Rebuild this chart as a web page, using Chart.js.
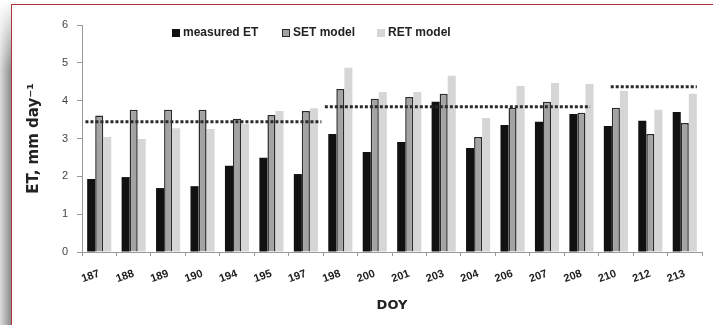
<!DOCTYPE html>
<html>
<head>
<meta charset="utf-8">
<script src="https://cdn.jsdelivr.net/npm/chart.js@4.4.1/dist/chart.umd.min.js"></script>
<style>
  html, body { margin: 0; padding: 0; background: #fff; }
  #wrap { position: relative; width: 713px; height: 325px; overflow: hidden; }
  #shadow {
    position: absolute; left: 0; top: 0; width: 11px; height: 325px;
    background: linear-gradient(to bottom, #fff 0px, rgba(255,255,255,0) 70px),
                linear-gradient(to right, #dcdcdc, #8c8c8c);
  }
  #frame {
    position: absolute; left: 11px; top: 4px; right: 0; bottom: 0;
    border-top: 1px solid #b3323a; border-left: 1px solid #b3323a;
  }
  canvas { position: absolute; left: 0; top: 0; }
</style>
</head>
<body>
<div id="wrap">
  <div id="shadow"></div>
  <div id="frame"></div>
  <canvas id="etChart" width="713" height="325"></canvas>
</div>
<script>
const doy = ["187", "188", "189", "190", "194", "195", "197", "198", "200",
  "201", "203", "204", "206", "207", "208", "210", "212", "213"];
const measuredET = [1.93, 1.98, 1.69, 1.74, 2.28, 2.49, 2.06, 3.12, 2.64,
  2.91, 3.97, 2.75, 3.36, 3.44, 3.65, 3.33, 3.47, 3.7];
const setModel = [3.61, 3.76, 3.76, 3.76, 3.52, 3.62, 3.73, 4.31, 4.05,
  4.1, 4.18, 3.04, 3.81, 3.97, 3.68, 3.81, 3.12, 3.41];
const retModel = [3.04, 2.99, 3.27, 3.25, 3.38, 3.73, 3.8, 4.87, 4.23,
  4.23, 4.66, 3.54, 4.39, 4.47, 4.44, 4.26, 3.76, 4.18];
const yTicks = [0, 1, 2, 3, 4, 5, 6];

// period averages (dotted lines); from/to in category index units
const periodFrom = [-0.4, 6.55, 14.85];
const periodTo = [6.45, 14.25, 17.35];
const periodMean = [3.44, 3.84, 4.37];

const legendX = [172, 282, 377];

const periodPlugin = {
  id: "periodLines",
  afterDatasetsDraw(chart) {
    const { ctx, scales: { x, y } } = chart;
    const step = x.getPixelForValue(1) - x.getPixelForValue(0);
    const x0 = x.getPixelForValue(0);
    ctx.save();
    ctx.strokeStyle = "#2a2a2a";
    ctx.lineWidth = 3;
    ctx.setLineDash([3, 2]);
    periodMean.forEach((m, i) => {
      const py = y.getPixelForValue(m);
      ctx.beginPath();
      ctx.moveTo(x0 + periodFrom[i] * step, py);
      ctx.lineTo(x0 + periodTo[i] * step, py);
      ctx.stroke();
    });
    ctx.restore();
  },
};

const legendPlugin = {
  id: "topLegend",
  afterDraw(chart) {
    const ctx = chart.ctx;
    ctx.save();
    ctx.font = "bold 12px 'Liberation Sans', Arial, sans-serif";
    ctx.textBaseline = "middle";
    chart.data.datasets.forEach((ds, k) => {
      const x = legendX[k];
      const y = 33;
      ctx.fillStyle = ds.backgroundColor;
      ctx.fillRect(x, y - 4, 8, 8);
      if (ds.borderWidth) {
        ctx.strokeStyle = ds.borderColor;
        ctx.lineWidth = 1;
        ctx.strokeRect(x + 0.5, y - 3.5, 7, 7);
      }
      ctx.fillStyle = "#222";
      ctx.fillText(ds.label, x + 11, y);
    });
    ctx.restore();
  },
};

const ctx = document.getElementById("etChart").getContext("2d");
const etChart = new Chart(ctx, {
  type: "bar",
  data: {
    labels: doy,
    datasets: [
      {
        label: "measured ET",
        data: measuredET,
        backgroundColor: "#111",
        borderWidth: 0,
      },
      {
        label: "SET model",
        data: setModel,
        backgroundColor: "#a3a3a3",
        borderColor: "#2a2a2a",
        borderWidth: 1.5,
      },
      {
        label: "RET model",
        data: retModel,
        backgroundColor: "#d6d6d6",
        borderWidth: 0,
      },
    ],
  },
  options: {
    responsive: false,
    animation: false,
    layout: { padding: { top: 25, right: 11, bottom: 0, left: 0 } },
    datasets: {
      bar: { categoryPercentage: 0.7, barPercentage: 1.0 },
    },
    plugins: {
      legend: { display: false },
      tooltip: { enabled: false },
    },
    scales: {
      x: {
        afterFit: (s) => { s.height = 73; },
        grid: { drawOnChartArea: false, tickLength: 4, color: "#999" },
        border: { color: "#999" },
        ticks: {
          minRotation: 20,
          maxRotation: 20,
          padding: 11,
          color: "#222",
          font: { family: "'Liberation Sans', Arial, sans-serif", size: 11, weight: "bold" },
        },
        title: {
          display: true,
          text: "DOY",
          color: "#222",
          padding: { top: 4, bottom: 12 },
          font: { family: "'DejaVu Sans', sans-serif", size: 13, weight: "bold" },
        },
      },
      y: {
        min: 0,
        max: 6,
        afterFit: (s) => { s.width = 82; },
        afterBuildTicks: (s) => { s.ticks = yTicks.map((v) => ({ value: v })); },
        grid: { drawOnChartArea: false, tickLength: 5, color: "#999" },
        border: { color: "#999" },
        ticks: {
          padding: 9,
          color: "#444",
          font: { family: "'Liberation Sans', Arial, sans-serif", size: 11 },
        },
        title: {
          display: true,
          text: "ET, mm day\u207B\u00B9",
          color: "#222",
          padding: { top: 25, bottom: 0 },
          font: { family: "'DejaVu Sans', sans-serif", size: 15, weight: "bold" },
        },
      },
    },
  },
  plugins: [periodPlugin, legendPlugin],
});
</script>
</body>
</html>
